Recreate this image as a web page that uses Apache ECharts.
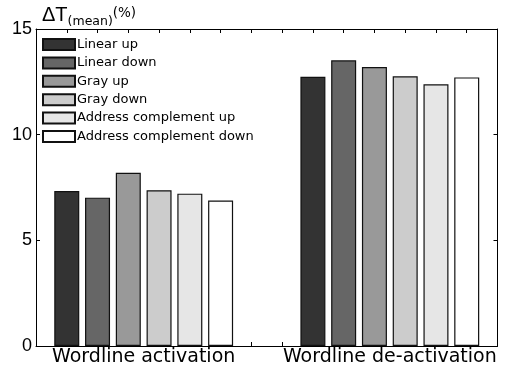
<!DOCTYPE html>
<html>
<head>
<meta charset="utf-8">
<script src="https://cdn.jsdelivr.net/npm/echarts@6/dist/echarts.min.js"></script>
<style>
  html, body { margin: 0; padding: 0; background: #fff; }
  #chart { width: 506px; height: 375px; }
</style>
</head>
<body>
<div id="chart"></div>
<script>
// Groups along the x axis
const categories = ['Wordline activation', 'Wordline de-activation'];

// Counting schemes (one bar per scheme in each group)
const seriesNames = [
  'Linear up', 'Linear down', 'Gray up', 'Gray down',
  'Address complement up', 'Address complement down'
];

// Mean ΔT (%) per scheme: [activation, de-activation]
const linearUp    = [7.33, 12.74];
const linearDown  = [7.02, 13.52];
const grayUp      = [8.20, 13.20];
const grayDown    = [7.37, 12.76];
const addrCompUp  = [7.21, 12.38];
const addrCompDn  = [6.88, 12.71];
const seriesValues = [linearUp, linearDown, grayUp, grayDown, addrCompUp, addrCompDn];

// Y-axis tick labels
const yTicks = [0, 5, 10, 15];

const fills = ['#333333', '#666666', '#999999', '#cccccc', '#e6e6e6', '#ffffff'];

// Bars sit at integer slots: group g occupies slots g*8+1 … g*8+6
const slotsPerGroup = 8;
const slotOf = (g, i) => g * slotsPerGroup + i + 1;
const groupCenter = g => g * slotsPerGroup + (seriesNames.length + 1) / 2;
const xMax = slotsPerGroup * (categories.length - 1) + seriesNames.length + 1;

const chart = echarts.init(document.getElementById('chart'), null, { renderer: 'canvas' });

const frameAxis = (position) => ({
  type: 'value', position, min: 0, max: xMax, interval: 1,
  axisLine: { show: true, onZero: false, lineStyle: { color: '#000', width: 1 } },
  axisTick: { show: true, inside: true, length: 4, lineStyle: { color: '#000' } },
  axisLabel: { show: false },
  splitLine: { show: false }
});

const option = {
  animation: false,
  backgroundColor: '#fff',
  title: {
    left: 42, top: 2, padding: 0,
    text: '{a|ΔT}{b|(mean)}{c|(%)}',
    textStyle: {
      fontWeight: 'normal',
      rich: {
        a: { fontFamily: 'Liberation Sans', fontSize: 20, fontWeight: 'normal', color: '#000', lineHeight: 26, verticalAlign: 'middle' },
        b: { fontFamily: 'DejaVu Sans', fontSize: 12.5, fontWeight: 'normal', color: '#000', lineHeight: 14, verticalAlign: 'bottom' },
        c: { fontFamily: 'DejaVu Sans', fontSize: 13.5, fontWeight: 'normal', color: '#000', lineHeight: 20, verticalAlign: 'top', padding: [4, 0, 0, 0] }
      }
    }
  },
  legend: {
    orient: 'vertical',
    left: 42, top: 38,
    padding: 0,
    itemWidth: 32, itemHeight: 11, itemGap: 5.4,
    icon: 'rect',
    textStyle: { fontFamily: 'DejaVu Sans', fontSize: 13, color: '#000', padding: [0, 0, 0, -3] },
    data: seriesNames
  },
  grid: { left: 36, right: 8.5, top: 29, bottom: 29, containLabel: false },
  xAxis: [
    frameAxis('bottom'),
    frameAxis('top'),
    {
      type: 'value', position: 'bottom', min: 0, max: xMax, interval: 0.5,
      axisLine: { show: false }, axisTick: { show: false }, splitLine: { show: false },
      axisLabel: {
        show: true, margin: 2, color: '#000',
        fontFamily: 'DejaVu Sans', fontSize: 19,
        showMinLabel: true, showMaxLabel: true,
        formatter: v => {
          for (let g = 0; g < categories.length; g++) {
            if (Math.abs(v - groupCenter(g)) < 1e-6) return categories[g];
          }
          return '';
        }
      }
    }
  ],
  yAxis: [
    {
      type: 'value', position: 'left', min: 0, max: 15, interval: 5,
      axisLine: { show: true, onZero: false, lineStyle: { color: '#000', width: 1 } },
      axisTick: { show: true, inside: true, length: 4, lineStyle: { color: '#000' } },
      axisLabel: {
        show: true, margin: 4, color: '#000', fontFamily: 'Liberation Sans', fontSize: 18,
        formatter: v => (yTicks.includes(v) ? String(v) : '')
      },
      splitLine: { show: false }
    },
    {
      type: 'value', position: 'right', min: 0, max: 15, interval: 5,
      axisLine: { show: true, onZero: false, lineStyle: { color: '#000', width: 1 } },
      axisTick: { show: true, inside: true, length: 4, lineStyle: { color: '#000' } },
      axisLabel: { show: false },
      splitLine: { show: false }
    }
  ],
  series: seriesNames.map((name, i) => ({
    name,
    type: 'bar',
    xAxisIndex: 0,
    yAxisIndex: 0,
    barWidth: 25,
    barGap: '-100%',
    itemStyle: { color: fills[i], borderColor: '#111', borderWidth: 1.2 },
    data: categories.map((c, g) => [slotOf(g, i), seriesValues[i][g]])
  }))
};

chart.setOption(option);
</script>
</body>
</html>
